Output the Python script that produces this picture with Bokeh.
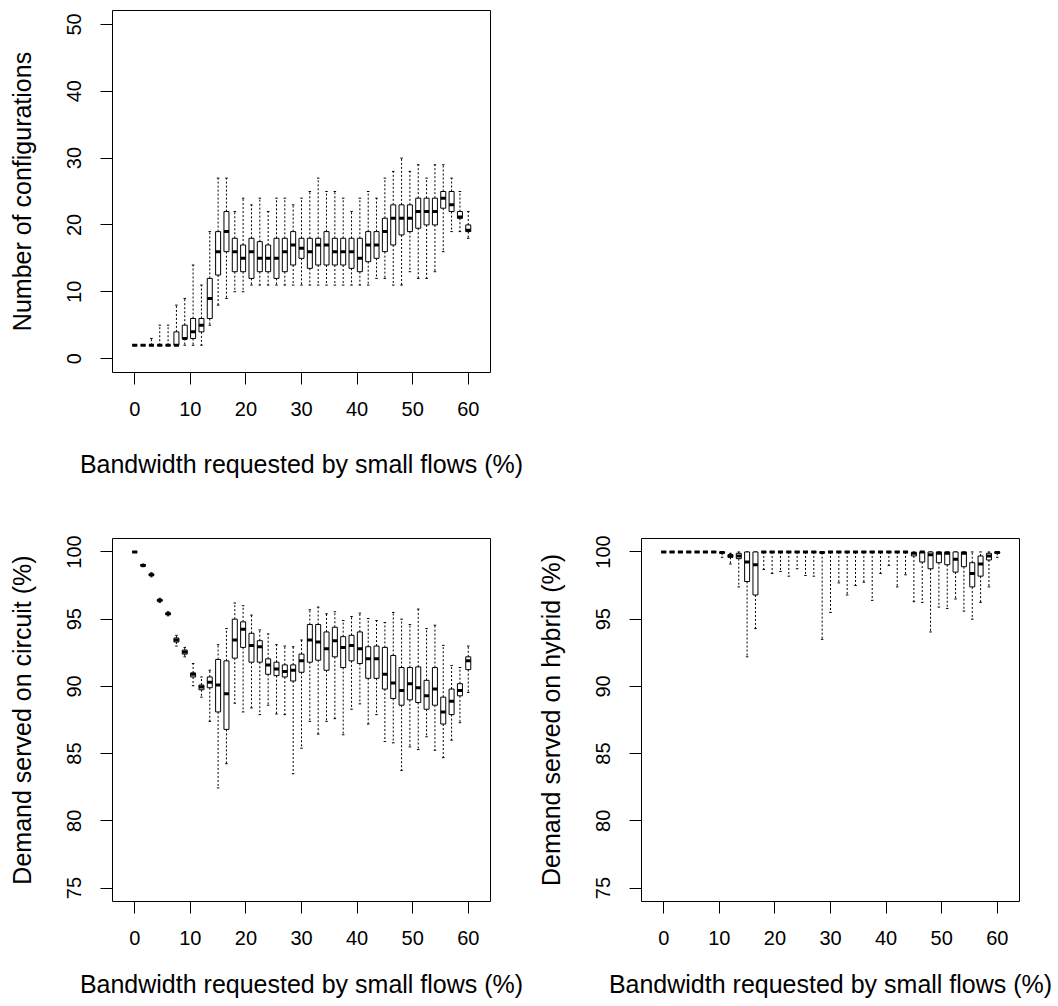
from bokeh.plotting import figure
from bokeh.layouts import column, row
from bokeh.models import FixedTicker, Range1d, ColumnDataSource
from bokeh.embed import file_html
from bokeh.resources import INLINE

# ---------------- data ----------------
bandwidth = [i * 1.5 for i in range(41)]  # box positions (0 .. 60 %)

# Number of configurations
cfg_lo  = [2, 2, 2, 2, 2, 2, 2, 2, 2, 5, 8, 9, 10, 10, 11, 11, 11, 11, 11, 11, 11,
           11, 11, 11, 11, 11, 11, 11, 11, 12, 12, 11, 11, 13, 12, 12, 13, 16, 19, 19, 18]
cfg_q1  = [2, 2, 2, 2, 2, 2, 3, 3, 4, 6, 12.5, 16, 13, 13, 12, 13, 13, 12, 13, 14, 15,
           13.5, 14, 14, 14, 14, 13.5, 13, 14.5, 15, 16, 17, 18.5, 19, 19.5, 20, 20, 22.5, 22, 21, 19]
cfg_med = [2, 2, 2, 2, 2, 2, 3, 4, 5, 9, 16, 19, 16, 15, 16, 15, 15, 15, 16, 17, 16.5,
           16, 17, 17, 16, 16, 16, 15, 17, 17, 19, 21, 21, 21, 22, 22, 22, 24, 23, 21.2, 19.2]
cfg_q3  = [2, 2, 2, 2, 2, 4, 5, 6, 6, 12, 19, 22, 18, 17, 18, 17.5, 17, 18, 18, 19, 18,
           18, 18, 19, 18, 18, 18, 18, 19, 19, 21, 23, 23, 23, 24, 24, 24, 25, 25, 22, 20]
cfg_hi  = [2, 2, 3, 5, 5, 8, 9, 14, 11, 19, 27, 27, 22, 24, 23, 24, 22, 24, 24, 23, 24,
           25, 27, 25, 25, 24, 22, 24, 25, 24, 27, 28, 30, 28, 29, 27, 29, 29, 27, 25, 22]

# Demand served on circuit (%)
cir_lo  = [100, 98.9, 98.15, 96.25, 95.25, 93.0, 92.2, 90.05, 89.2, 87.4, 82.45, 84.25, 88.75, 88.1,
           88.4, 87.9, 88.6, 87.95, 87.9, 83.5, 85.4, 87.4, 86.45, 87.4, 87.6, 86.4, 88.3, 88.7,
           87.2, 87.9, 85.9, 85.8, 83.75, 85.5, 85.3, 86.25, 85.25, 84.7, 86.0, 87.3, 89.55]
cir_q1  = [100, 99.0, 98.25, 96.35, 95.35, 93.3, 92.4, 90.7, 89.75, 89.9, 88.1, 86.8, 92.1, 92.9,
           91.8, 91.8, 90.9, 90.8, 90.7, 90.4, 91.05, 91.8, 91.95, 91.2, 92.2, 91.4, 91.9, 91.7,
           90.6, 90.6, 89.8, 89.1, 88.6, 89.0, 88.8, 88.3, 88.6, 87.2, 87.9, 89.3, 91.25]
cir_med = [100, 99.0, 98.3, 96.4, 95.4, 93.45, 92.55, 90.9, 89.95, 90.3, 90.1, 89.45, 93.45, 94.25,
           93.05, 92.95, 91.6, 91.3, 91.1, 91.2, 91.9, 93.45, 93.3, 92.8, 93.4, 92.9, 93.05, 92.8,
           92.05, 92.05, 90.9, 90.25, 89.7, 90.2, 89.9, 89.3, 89.8, 88.1, 88.9, 89.7, 91.9]
cir_q3  = [100, 99.05, 98.35, 96.45, 95.45, 93.6, 92.7, 91.0, 90.1, 90.7, 92.0, 91.9, 95.0, 94.8,
           93.95, 93.4, 92.05, 91.8, 91.6, 91.6, 92.4, 94.6, 94.6, 94.05, 94.4, 93.7, 93.8, 94.05,
           92.95, 93.0, 92.9, 92.3, 91.4, 91.4, 91.45, 90.45, 91.4, 89.2, 89.8, 90.2, 92.2]
cir_hi  = [100, 99.1, 98.45, 96.55, 95.55, 93.8, 92.9, 91.7, 90.7, 91.2, 93.1, 94.3, 96.2, 96.0,
           95.3, 94.2, 93.9, 93.1, 93.0, 92.95, 93.45, 95.7, 95.9, 95.4, 95.55, 94.9, 95.2, 95.45,
           95.05, 94.9, 94.75, 95.5, 95.0, 94.6, 95.75, 94.3, 94.55, 93.05, 91.55, 91.4, 93.0]

# Demand served on hybrid (%)
hyb_lo  = [100, 100, 100, 100, 100, 100, 100, 99.6, 99.1, 97.4, 92.2, 94.3, 98.7, 98.4, 98.55,
           98.2, 98.75, 98.25, 98.2, 93.5, 95.5, 97.7, 96.8, 97.5, 97.75, 96.4, 98.4, 99.0, 97.4,
           98.3, 96.3, 96.25, 94.05, 95.9, 95.8, 96.5, 95.6, 95.0, 96.25, 97.4, 99.6]
hyb_q1  = [100, 100, 100, 100, 100, 100, 100, 99.9, 99.6, 99.5, 97.8, 96.8, 100, 100, 100,
           100, 100, 100, 100, 99.95, 100, 100, 100, 100, 100, 100, 100, 100, 100,
           100, 99.7, 99.25, 98.75, 99.2, 99.05, 98.5, 98.9, 97.4, 98.2, 99.4, 99.9]
hyb_med = [100, 100, 100, 100, 100, 100, 100, 99.95, 99.7, 99.7, 99.25, 99.05, 100, 100, 100,
           100, 100, 100, 100, 99.95, 100, 100, 100, 100, 100, 100, 100, 100, 100,
           100, 99.9, 100, 99.8, 99.9, 99.9, 99.45, 99.9, 98.4, 99.1, 99.7, 99.95]
hyb_q3  = [100, 100, 100, 100, 100, 100, 100, 100, 99.8, 99.9, 100, 100, 100, 100, 100,
           100, 100, 100, 100, 100, 100, 100, 100, 100, 100, 100, 100, 100, 100,
           100, 99.95, 100, 100, 100, 100, 100, 100, 99.2, 99.7, 99.9, 100]
hyb_hi  = [100, 100, 100, 100, 100, 100, 100, 100, 99.9, 100, 100, 100, 100, 100, 100,
           100, 100, 100, 100, 100, 100, 100, 100, 100, 100, 100, 100, 100, 100,
           100, 100, 100, 100, 100, 100, 100, 100, 100, 100, 100, 100]

x_ticks = [0, 10, 20, 30, 40, 50, 60]
cfg_ticks = [0, 10, 20, 30, 40, 50]
pct_ticks = [75, 80, 85, 90, 95, 100]

XLABEL = "Bandwidth requested by small flows (%)"
FONT = "Liberation Sans"
BOX_W = 0.9
STAPLE_W = 0.45


def make_fig(width, height, left, right, top, bottom, yr, yticks, ylabel, xtitle_standoff):
    p = figure(width=width, height=height, output_backend="svg", toolbar_location=None,
               x_range=Range1d(-4, 64), y_range=Range1d(*yr),
               min_border_left=left, min_border_right=right,
               min_border_top=top, min_border_bottom=bottom)
    p.xgrid.visible = False
    p.ygrid.visible = False
    p.outline_line_color = "black"
    p.outline_line_width = 1
    p.background_fill_color = "white"
    p.border_fill_color = "white"
    p.xaxis.ticker = FixedTicker(ticks=x_ticks)
    p.yaxis.ticker = FixedTicker(ticks=yticks)
    p.xaxis.axis_label = XLABEL
    p.yaxis.axis_label = ylabel
    for ax in (p.xaxis[0], p.yaxis[0]):
        ax.axis_line_color = None
        ax.major_tick_out = 12
        ax.major_tick_in = 0
        ax.major_tick_line_color = "black"
        ax.major_tick_line_width = 1
        ax.minor_tick_line_color = None
        ax.major_label_text_font = FONT
        ax.major_label_text_font_size = "20px"
        ax.major_label_text_color = "black"
        ax.axis_label_text_font = FONT
        ax.axis_label_text_font_size = "25px"
        ax.axis_label_text_font_style = "normal"
        ax.axis_label_text_color = "black"
    p.xaxis.major_label_standoff = 17
    p.xaxis.axis_label_standoff = xtitle_standoff
    p.yaxis.major_label_standoff = 19
    p.yaxis.axis_label_standoff = 29
    p.yaxis.major_label_orientation = "vertical"
    return p


def draw_boxes(p, lo, q1, med, q3, hi):
    src = ColumnDataSource(dict(
        x=bandwidth, lo=lo, q1=q1, med=med, q3=q3, hi=hi,
        left=[v - BOX_W / 2 for v in bandwidth], right=[v + BOX_W / 2 for v in bandwidth],
        sl=[v - STAPLE_W / 2 for v in bandwidth], sr=[v + STAPLE_W / 2 for v in bandwidth],
    ))
    # whiskers
    p.segment(x0="x", y0="q3", x1="x", y1="hi", source=src, line_color="black",
              line_width=1, line_dash="2 2")
    p.segment(x0="x", y0="q1", x1="x", y1="lo", source=src, line_color="black",
              line_width=1, line_dash="2 2")
    # staples
    p.segment(x0="sl", y0="hi", x1="sr", y1="hi", source=src, line_color="black", line_width=1)
    p.segment(x0="sl", y0="lo", x1="sr", y1="lo", source=src, line_color="black", line_width=1)
    # boxes
    p.quad(left="left", right="right", bottom="q1", top="q3", source=src,
           fill_color="white", line_color="black", line_width=1)
    # medians
    p.segment(x0="left", y0="med", x1="right", y1="med", source=src, line_color="black",
              line_width=3, line_cap="butt")


p1 = make_fig(530, 528, 112, 40, 10, 156, (-2.08, 52.08), cfg_ticks,
              "Number of configurations", 31)
draw_boxes(p1, cfg_lo, cfg_q1, cfg_med, cfg_q3, cfg_hi)

p2 = make_fig(530, 478, 112, 40, 10, 105, (74.0, 101.0), pct_ticks,
              "Demand served on circuit (%)", 22)
draw_boxes(p2, cir_lo, cir_q1, cir_med, cir_q3, cir_hi)

p3 = make_fig(528, 478, 111, 39, 10, 105, (74.0, 101.0), pct_ticks,
              "Demand served on hybrid (%)", 22)
draw_boxes(p3, hyb_lo, hyb_q1, hyb_med, hyb_q3, hyb_hi)

layout = column(p1, row(p2, p3))

with open("out.html", "w") as f:
    f.write(file_html(layout, INLINE))
